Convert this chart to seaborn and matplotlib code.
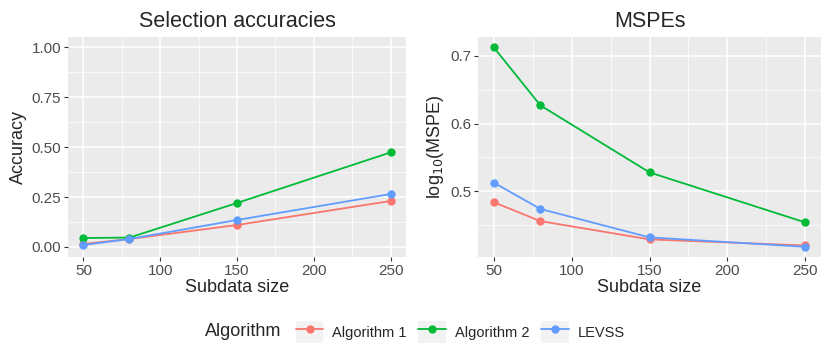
import matplotlib
matplotlib.use("Agg")
import matplotlib.pyplot as plt
import seaborn as sns
import pandas as pd
from matplotlib.lines import Line2D
from matplotlib.patches import Rectangle
from matplotlib.legend_handler import HandlerLine2D
from matplotlib.ticker import MultipleLocator
from matplotlib.offsetbox import HPacker

sizes = [50, 80, 150, 250]
algorithms = ["Algorithm 1", "Algorithm 2", "LEVSS"]
acc_alg1 = [0.015, 0.040, 0.110, 0.230]
acc_alg2 = [0.045, 0.047, 0.220, 0.473]
acc_levss = [0.010, 0.040, 0.135, 0.265]
mspe_alg1 = [0.484, 0.456, 0.429, 0.420]
mspe_alg2 = [0.713, 0.627, 0.528, 0.454]
mspe_levss = [0.513, 0.474, 0.432, 0.418]
colors = ["#F8766D", "#00BA38", "#619CFF"]

rows = []
for alg, a, m in zip(algorithms, [acc_alg1, acc_alg2, acc_levss], [mspe_alg1, mspe_alg2, mspe_levss]):
    for s, av, mv in zip(sizes, a, m):
        rows.append({"size": s, "Algorithm": alg, "acc": av, "mspe": mv})
df = pd.DataFrame(rows)

sns.set_theme(style="darkgrid")
plt.rcParams['font.family'] = ['Liberation Sans', 'DejaVu Sans']

fig = plt.figure(figsize=(8.3, 3.56), dpi=100)
ax1 = fig.add_axes([68/830, 1-257/356, (406-68)/830, (257-37)/356])
ax2 = fig.add_axes([478/830, 1-257/356, (821-478)/830, (257-37)/356])

pal = dict(zip(algorithms, colors))
for ax, col in [(ax1, "acc"), (ax2, "mspe")]:
    sns.lineplot(data=df, x="size", y=col, hue="Algorithm", palette=pal, marker="o",
                 markersize=6, markeredgewidth=0, linewidth=1.3, ax=ax, legend=False)
    ax.set_facecolor("#EBEBEB")
    ax.set_xlim(40, 260)
    ax.set_xticks([50, 100, 150, 200, 250])
    ax.xaxis.set_minor_locator(MultipleLocator(25))
    ax.grid(which="major", color="white", linewidth=1.1)
    ax.grid(which="minor", color="white", linewidth=0.5)
    for s in ax.spines.values():
        s.set_visible(False)
    ax.tick_params(axis="both", which="major", length=3, width=0.8, color="#333333",
                   labelsize=11, labelcolor="#4D4D4D", pad=2, bottom=True, left=True)
    ax.tick_params(axis="both", which="minor", length=0)
    ax.set_xlabel("Subdata size", fontsize=13, labelpad=1)

ax1.set_ylim(-0.05, 1.05)
ax1.set_yticks([0, 0.25, 0.5, 0.75, 1.0])
ax1.set_yticklabels(["0.00", "0.25", "0.50", "0.75", "1.00"])
ax1.yaxis.set_minor_locator(MultipleLocator(0.125))
ax1.set_ylabel("Accuracy", fontsize=13, labelpad=3)
ax1.set_title("Selection accuracies", fontsize=15.5, pad=7)

ax2.set_ylim(0.403, 0.728)
ax2.set_yticks([0.5, 0.6, 0.7])
ax2.set_yticklabels(["0.5", "0.6", "0.7"])
ax2.yaxis.set_minor_locator(MultipleLocator(0.05))
ax2.set_ylabel("log$_{10}$(MSPE)", fontsize=13, labelpad=3)
ax2.set_title("MSPEs", fontsize=15.5, pad=7)


class BoxLine(HandlerLine2D):
    def create_artists(self, legend, orig_handle, xdescent, ydescent, width, height,
                       fontsize, trans):
        rect = Rectangle((-xdescent, -ydescent), width, height, facecolor="#F2F2F2",
                         edgecolor="none", transform=trans)
        arts = super().create_artists(legend, orig_handle, xdescent, ydescent, width,
                                      height, fontsize, trans)
        return [rect] + list(arts)


handles = [Line2D([0], [0], color=c, marker="o", markersize=6, markeredgewidth=0, linewidth=1.3)
           for c in colors]
leg = fig.legend(handles, algorithms, title="Algorithm", loc="center", ncol=3,
                 bbox_to_anchor=(0.5, 1-332/356), frameon=False, fontsize=10.5,
                 title_fontsize=13, handlelength=1.9, handleheight=1.9, columnspacing=0.8,
                 handletextpad=0.6, handler_map={Line2D: BoxLine(numpoints=1)})
title_box = leg._legend_title_box
handle_box = leg._legend_handle_box
leg._legend_box._children = [HPacker(pad=0, sep=10, children=[title_box, handle_box], align="center")]

fig.savefig("out.png", dpi=100)
